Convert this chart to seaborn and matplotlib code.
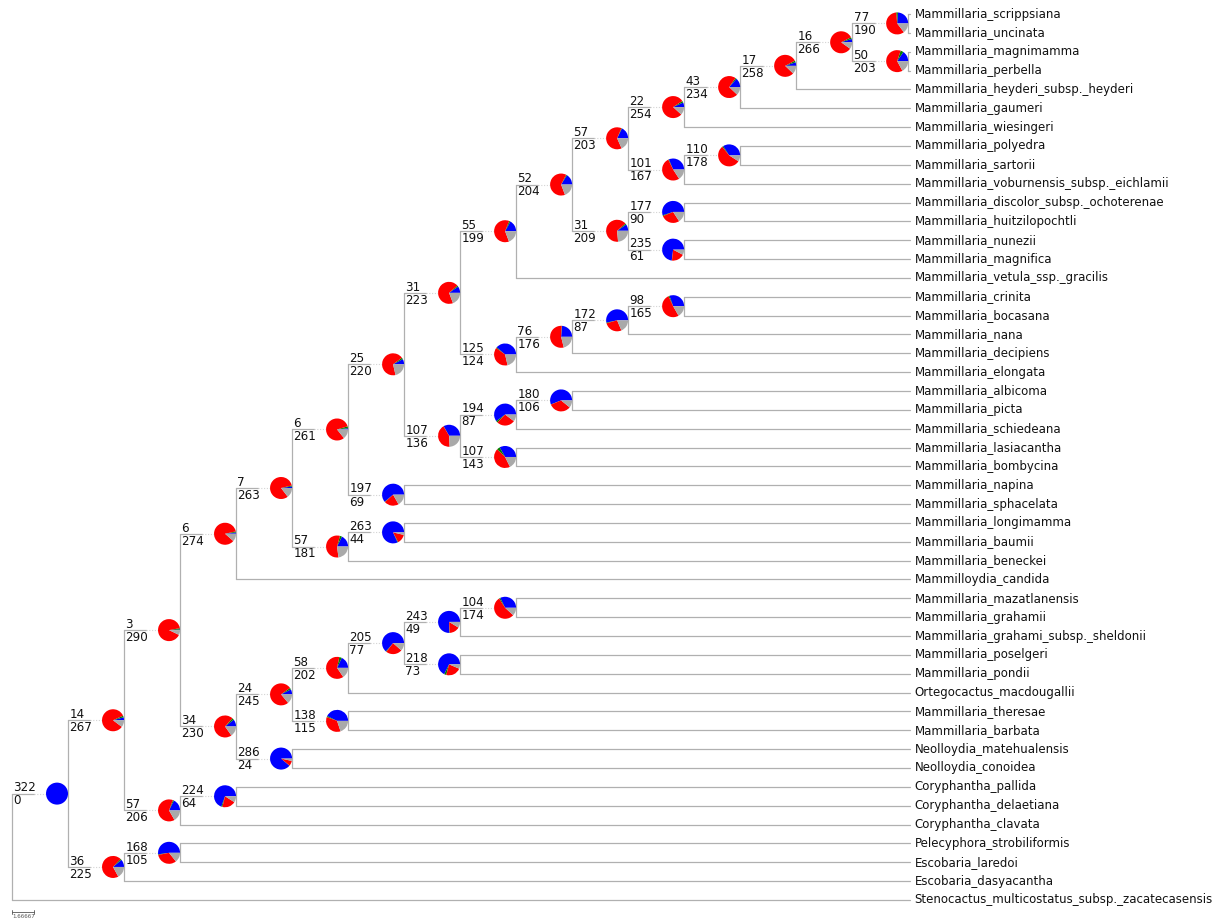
import matplotlib
matplotlib.use("Agg")
import matplotlib.pyplot as plt
from matplotlib.patches import Wedge
from matplotlib.transforms import ScaledTranslation
import pandas as pd
import seaborn as sns

# Leaves, top to bottom
leaf_names = [
    "Mammillaria_scrippsiana", "Mammillaria_uncinata", "Mammillaria_magnimamma",
    "Mammillaria_perbella", "Mammillaria_heyderi_subsp._heyderi", "Mammillaria_gaumeri",
    "Mammillaria_wiesingeri", "Mammillaria_polyedra", "Mammillaria_sartorii",
    "Mammillaria_voburnensis_subsp._eichlamii", "Mammillaria_discolor_subsp._ochoterenae",
    "Mammillaria_huitzilopochtli", "Mammillaria_nunezii", "Mammillaria_magnifica",
    "Mammillaria_vetula_ssp._gracilis", "Mammillaria_crinita", "Mammillaria_bocasana",
    "Mammillaria_nana", "Mammillaria_decipiens", "Mammillaria_elongata",
    "Mammillaria_albicoma", "Mammillaria_picta", "Mammillaria_schiedeana",
    "Mammillaria_lasiacantha", "Mammillaria_bombycina", "Mammillaria_napina",
    "Mammillaria_sphacelata", "Mammillaria_longimamma", "Mammillaria_baumii",
    "Mammillaria_beneckei", "Mammilloydia_candida", "Mammillaria_mazatlanensis",
    "Mammillaria_grahamii", "Mammillaria_grahami_subsp._sheldonii", "Mammillaria_poselgeri",
    "Mammillaria_pondii", "Ortegocactus_macdougallii", "Mammillaria_theresae",
    "Mammillaria_barbata", "Neolloydia_matehualensis", "Neolloydia_conoidea",
    "Coryphantha_pallida", "Coryphantha_delaetiana", "Coryphantha_clavata",
    "Pelecyphora_strobiliformis", "Escobaria_laredoi", "Escobaria_dasyacantha",
    "Stenocactus_multicostatus_subsp._zacatecasensis",
]

# Internal nodes: children are node names (str) or leaf indices (int)
node_names = ["root", "a", "b", "c", "f", "e", "g", "d", "i", "k", "j", "m", "l", "n",
              "p", "o", "q", "h", "r", "t", "u", "s", "w", "v", "y", "A", "z", "B",
              "x", "D", "E", "F", "G", "C", "H", "J", "K", "L", "I", "N", "O", "M",
              "P", "Q", "R", "S", "T"]
node_children = [["a", 47], ["b", "c"], ["d", "e"], ["f", 46], [44, 45], ["g", 43],
                 [41, 42], ["h", "i"], ["j", "k"], [39, 40], ["l", "m"], [37, 38],
                 ["n", 36], ["o", "p"], [34, 35], ["q", 33], [31, 32], ["r", 30],
                 ["s", "t"], ["u", 29], [27, 28], ["v", "w"], [25, 26], ["x", "y"],
                 ["z", "A"], [23, 24], ["B", 22], [20, 21], ["C", "D"], ["E", 19],
                 ["F", 18], ["G", 17], [15, 16], ["H", 14], ["I", "J"], ["K", "L"],
                 [10, 11], [12, 13], ["M", "N"], ["O", 9], [7, 8], ["P", 6],
                 ["Q", 5], ["R", 4], ["S", "T"], [0, 1], [2, 3]]
node_top = [None, 322, 14, 36, 168, 57, 224, 3, 34, 286, 24, 138, 58, 205, 218, 243,
            104, 6, 7, 57, 263, 6, 197, 25, 107, 107, 194, 180, 31, 125, 76, 172, 98,
            55, 52, 31, 177, 235, 57, 101, 110, 22, 43, 17, 16, 77, 50]
node_bottom = [None, 0, 267, 225, 105, 206, 64, 290, 230, 24, 245, 115, 202, 77, 73, 49,
               174, 274, 263, 181, 44, 261, 69, 220, 136, 143, 87, 106, 223, 124, 176,
               87, 165, 199, 204, 209, 90, 61, 203, 167, 178, 254, 234, 258, 266, 190,
               203]
node_green = [None, 0, 8, 6, 3, 5, 5, 6, 9, 1, 8, 5, 12, 3, 10, 2, 6, 5, 5, 10, 3, 9, 2,
              8, 1, 15, 8, 1, 6, 4, 2, 3, 5, 6, 4, 6, 4, 1, 3, 3, 5, 8, 6, 8, 8, 8, 14]
total = 322

pie_colors = ["#0000ff", "#008000", "#ff0000", "#a9a9a9"]
line_color = "#b0b0b0"
text_color = "#111111"
leaf_end = 16.04

children = dict(zip(node_names, node_children))
depth, ypos, parent = {}, {}, {}


def layout(n, d):
    depth[n] = d
    ys = []
    for c in children[n]:
        if isinstance(c, str):
            parent[c] = n
            layout(c, d + 1)
            ys.append(ypos[c])
        else:
            ys.append(c)
    ypos[n] = (ys[0] + ys[-1]) / 2


layout("root", 0)

# segments
solid, dotted = [], []
seg = 0
for n in node_names:
    kids = children[n]
    ys = [ypos[c] if isinstance(c, str) else c for c in kids]
    solid += [(depth[n], ys[0], seg), (depth[n], ys[-1], seg)]
    seg += 1
    for c, yc in zip(kids, ys):
        if isinstance(c, str):
            solid += [(depth[n], yc, seg), (depth[n] + 0.4, yc, seg)]
            seg += 1
            dotted += [(depth[n] + 0.4, yc, seg), (depth[c] - 0.39, yc, seg)]
        else:
            solid += [(depth[n], yc, seg), (leaf_end, yc, seg)]
        seg += 1

solid_df = pd.DataFrame(solid, columns=["x", "y", "seg"])
dotted_df = pd.DataFrame(dotted, columns=["x", "y", "seg"])

sns.set_style("white")
fig = plt.figure(figsize=(12.19, 9.22), dpi=100)
ax = fig.add_axes([0, 0, 1, 1])

sns.lineplot(data=solid_df, x="x", y="y", units="seg", estimator=None, sort=False,
             color=line_color, lw=0.9, ax=ax, legend=False)
sns.lineplot(data=dotted_df, x="x", y="y", units="seg", estimator=None, sort=False,
             color="#d4d4d4", lw=0.8, linestyle=(0, (1, 1.5)), ax=ax, legend=False)

ax.set_xlim(-0.214, 21.55)
ax.set_ylim(48.17, -0.743)
ax.axis("off")

# pies and labels
for n, top, bot, green in zip(node_names, node_top, node_bottom, node_green):
    if top is None:
        continue
    x, y = depth[n] - 0.196, ypos[n]
    vals = [top, green, bot, total - top - bot - green]
    tr = fig.dpi_scale_trans + ScaledTranslation(x, y, ax.transData)
    start = 0.0
    for v, col in zip(vals, pie_colors):
        if v <= 0:
            continue
        ang = 360.0 * v / total
        ax.add_patch(Wedge((0, 0), 0.11, start, start + ang, facecolor=col,
                           edgecolor="none", transform=tr, zorder=3))
        start += ang
    px = depth[parent[n]]
    ax.annotate(str(top), (px, y), xytext=(1, 1.6), textcoords="offset points",
                ha="left", va="baseline", fontsize=8.6, color=text_color)
    ax.annotate(str(bot), (px, y), xytext=(1, -0.6), textcoords="offset points",
                ha="left", va="top", fontsize=8.6, color=text_color)

for i, name in enumerate(leaf_names):
    ax.annotate(name, (leaf_end, i), xytext=(3, 0), textcoords="offset points",
                ha="left", va="center", fontsize=8.5, color=text_color)

# scale bar
ax.plot([0, 0.39], [47.64, 47.64], color="#555555", lw=0.6)
ax.plot([0, 0], [47.55, 47.73], color="#555555", lw=0.6)
ax.plot([0.39, 0.39], [47.55, 47.73], color="#555555", lw=0.6)
ax.annotate("1.66667", (0, 47.64), xytext=(0, -1.5), textcoords="offset points",
            ha="left", va="top", fontsize=4, color="#555555")

fig.savefig("out.png", dpi=100)
